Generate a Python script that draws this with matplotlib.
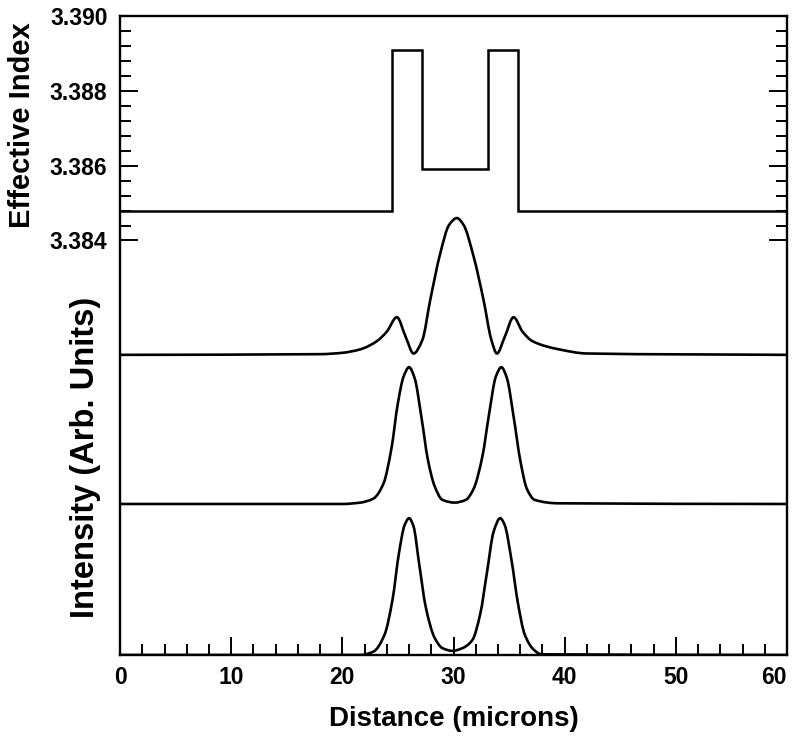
import matplotlib
matplotlib.use('Agg')
import matplotlib.pyplot as plt
from matplotlib.path import Path
from matplotlib.patches import PathPatch
from matplotlib.ticker import MultipleLocator

plt.rcParams['font.family'] = ['Liberation Sans', 'DejaVu Sans']
plt.rcParams['font.weight'] = 'bold'

# effective index profile (step edges in microns, index levels)
index_edges = [0, 24.5, 27.2, 33.1, 35.8, 60]
index_levels = [3.3848, 3.3891, 3.3859, 3.3891, 3.3848]

# mode intensity profiles (normalised to peak = 1)
mode1_x = [0, 18, 20, 21.6, 23.1, 24.0, 24.9, 25.7, 26.4, 27.2, 27.9, 28.8, 29.6, 30.3,
           30.9, 31.8, 32.7, 33.4, 33.9, 34.6, 35.4, 36.2, 37.1, 39.5, 42, 60]
mode1_y = [0, 0.005, 0.015, 0.04, 0.10, 0.17, 0.275, 0.13, 0.01, 0.11, 0.40, 0.74, 0.95, 1.0,
           0.95, 0.72, 0.40, 0.11, 0.01, 0.13, 0.275, 0.17, 0.10, 0.04, 0.01, 0]

mode2_x = [0, 20, 21.6, 22.8, 23.7, 24.4, 25.0, 25.5, 26.0, 26.5, 27.1, 27.7, 28.3, 29.0,
           30.1, 31.1, 31.8, 32.6, 33.2, 33.8, 34.3, 34.8, 35.4, 36.0, 36.6, 37.3, 39.4, 60]
mode2_y = [0, 0, 0.01, 0.04, 0.15, 0.40, 0.74, 0.93, 1.0, 0.92, 0.64, 0.32, 0.13, 0.03,
           0.01, 0.03, 0.11, 0.35, 0.66, 0.93, 1.0, 0.92, 0.64, 0.32, 0.11, 0.03, 0.005, 0]

mode3_x = [0, 21.6, 22.8, 23.8, 24.5, 25.1, 25.6, 26.0, 26.4, 26.9, 27.5, 28.3, 29.0, 29.9,
           30.8, 31.7, 32.4, 33.0, 33.6, 34.2, 34.6, 35.2, 35.8, 36.4, 37.2, 37.9, 60]
mode3_y = [0, 0, 0.025, 0.15, 0.40, 0.75, 0.95, 1.0, 0.94, 0.67, 0.35, 0.125, 0.05, 0.03,
           0.05, 0.11, 0.30, 0.60, 0.90, 1.0, 0.95, 0.70, 0.375, 0.15, 0.04, 0.005, 0]

# where each intensity trace sits on the index axis and how tall it is drawn
offsets = [3.38094, 3.37695, 3.37291]
scale = 0.00366


# smooth bezier path through the read points (monotone tangents, no overshoot)
def smooth_path(xs, ys):
    n = len(xs)
    h = [xs[i + 1] - xs[i] for i in range(n - 1)]
    d = [(ys[i + 1] - ys[i]) / h[i] for i in range(n - 1)]
    m = [d[0]] + [0.0] * (n - 2) + [d[-1]]
    for i in range(1, n - 1):
        if d[i - 1] * d[i] > 0:
            h0, h1 = h[i - 1], h[i]
            m[i] = 3 * (h0 + h1) / ((2 * h1 + h0) / d[i - 1] + (h1 + 2 * h0) / d[i])
    verts = [(xs[0], ys[0])]
    codes = [Path.MOVETO]
    for i in range(n - 1):
        verts += [(xs[i] + h[i] / 3, ys[i] + m[i] * h[i] / 3),
                  (xs[i + 1] - h[i] / 3, ys[i + 1] - m[i + 1] * h[i] / 3),
                  (xs[i + 1], ys[i + 1])]
        codes += [Path.CURVE4] * 3
    return Path(verts, codes)


fig = plt.figure(figsize=(7.95, 7.38), dpi=100)
ax = fig.add_axes([0.151, 0.1125, 0.839, 0.8655])

ax.stairs(index_levels, index_edges, baseline=None, color='black', lw=1.8)
for xs, ys, off in zip([mode1_x, mode2_x, mode3_x], [mode1_y, mode2_y, mode3_y], offsets):
    p = smooth_path(xs, [off + v * scale for v in ys])
    ax.add_patch(PathPatch(p, fill=False, edgecolor='black', lw=1.9))

ax.set_xlim(0, 60)
ax.set_ylim(offsets[2], 3.390)

ax.set_xticks(range(0, 61, 10))
ax.xaxis.set_minor_locator(MultipleLocator(2))
ax.set_yticks([3.384, 3.386, 3.388, 3.390])
ax.set_yticks([3.3844 + 0.0004 * i for i in range(14) if i % 5 != 4], minor=True)
ax.set_yticklabels(['3.384', '3.386', '3.388', '3.390'])

ax.tick_params(axis='both', which='both', direction='in', labelsize=16.5, width=1.4)
ax.tick_params(axis='both', which='major', length=13)
ax.tick_params(axis='both', which='minor', length=8)
ax.tick_params(axis='y', which='both', right=True)
ax.tick_params(axis='y', pad=9)
ax.tick_params(axis='x', pad=8)
ax.get_xticklabels()[-1].set_horizontalalignment('right')

for s in ax.spines.values():
    s.set_linewidth(1.7)

ax.set_xlabel('Distance (microns)', fontsize=20, fontweight='bold', labelpad=12)
fig.text(0.028, 0.83, 'Effective Index', rotation=90, ha='center', va='center',
         fontsize=21, fontweight='bold')
fig.text(0.107, 0.38, 'Intensity (Arb. Units)', rotation=90, ha='center', va='center',
         fontsize=23.5, fontweight='bold')

fig.savefig('out.png', dpi=100)
